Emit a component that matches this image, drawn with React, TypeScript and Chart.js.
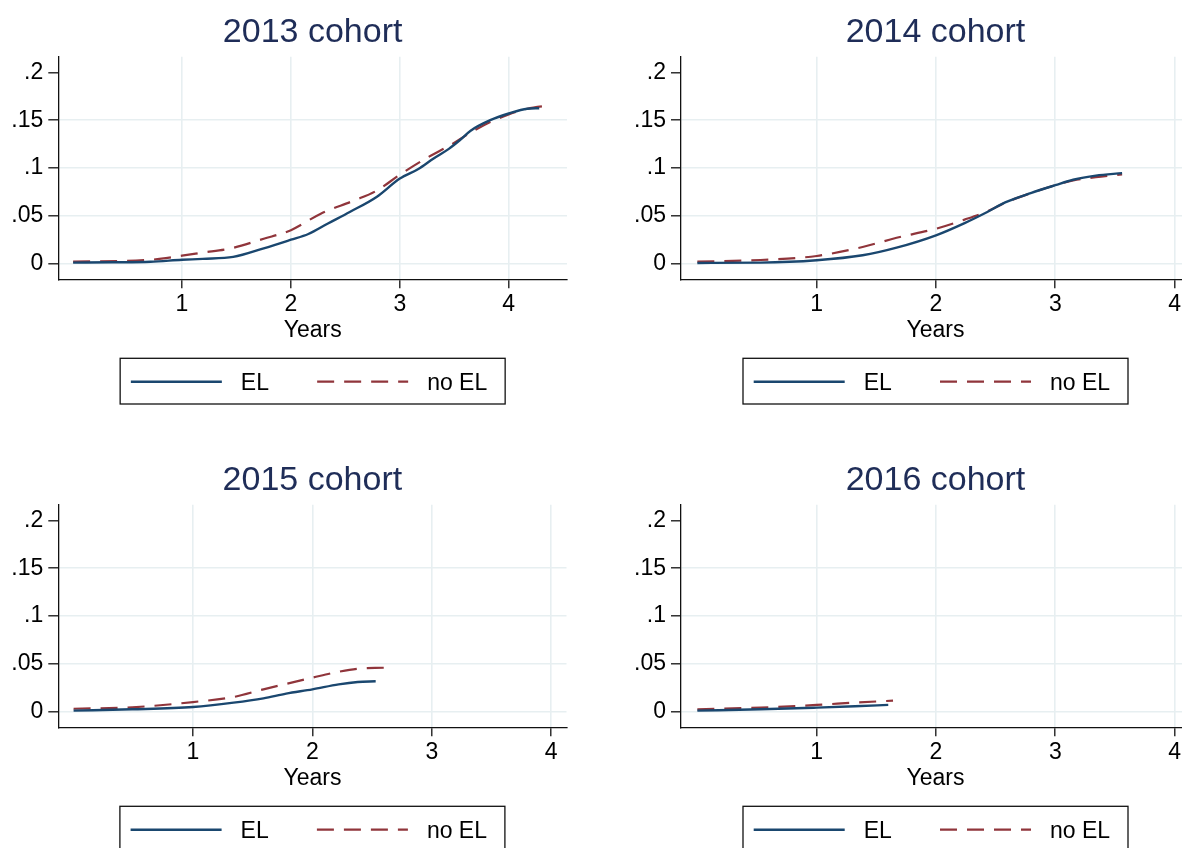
import React, { useEffect, useRef } from "react";
import { Chart, registerables } from "chart.js";

Chart.register(...registerables);

// ---- data ----------------------------------------------------------------
const cohortTitles = ["2013 cohort", "2014 cohort", "2015 cohort", "2016 cohort"];
const seriesNames = ["EL", "no EL"];
const xAxisTitle = "Years";

const yTickValues = [0, 0.05, 0.1, 0.15, 0.2];
const yTickLabels = ["0", ".05", ".1", ".15", ".2"];
const xTickValues = [1, 2, 3, 4];

// 2013 cohort
const years2013EL = [0, 0.36, 0.71, 1.0, 1.19, 1.47, 1.75, 2.0, 2.16, 2.34, 2.54, 2.79, 3.0, 3.17, 3.31, 3.45, 3.55, 3.65, 3.83, 4.0, 4.17, 4.28];
const share2013EL = [0.001, 0.0014, 0.002, 0.004, 0.005, 0.007, 0.016, 0.025, 0.031, 0.042, 0.054, 0.07, 0.089, 0.099, 0.11, 0.12, 0.129, 0.139, 0.15, 0.157, 0.162, 0.1625];
const years2013NoEL = [0, 0.71, 1.0, 1.19, 1.44, 1.75, 2.0, 2.27, 2.58, 2.79, 3.0, 3.24, 3.48, 3.65, 3.83, 4.0, 4.17, 4.38];
const share2013NoEL = [0.002, 0.004, 0.0083, 0.0115, 0.0157, 0.026, 0.035, 0.052, 0.066, 0.0765, 0.093, 0.11, 0.125, 0.137, 0.148, 0.156, 0.162, 0.1656];

// 2014 cohort
const years2014EL = [0, 0.53, 1.0, 1.385, 1.67, 2.0, 2.24, 2.43, 2.58, 2.8, 3.0, 3.15, 3.34, 3.56];
const share2014EL = [0.0007, 0.001, 0.0035, 0.0087, 0.0167, 0.0296, 0.0424, 0.054, 0.064, 0.074, 0.082, 0.0877, 0.092, 0.0946];
const years2014NoEL = [0, 0.53, 1.0, 1.385, 1.67, 2.0, 2.24, 2.43, 2.58, 2.8, 3.0, 3.15, 3.34, 3.56];
const share2014NoEL = [0.002, 0.0038, 0.008, 0.0174, 0.027, 0.0365, 0.046, 0.0546, 0.0637, 0.074, 0.082, 0.087, 0.0904, 0.0932];

// 2015 cohort
const years2015EL = [0, 0.49, 1.0, 1.34, 1.59, 1.78, 2.0, 2.22, 2.38, 2.53];
const share2015EL = [0.001, 0.0024, 0.0049, 0.0094, 0.0139, 0.0188, 0.0233, 0.0285, 0.031, 0.0317];
const years2015NoEL = [0, 0.49, 1.0, 1.34, 1.59, 1.78, 2.0, 2.22, 2.38, 2.6];
const share2015NoEL = [0.003, 0.0045, 0.01, 0.0153, 0.0233, 0.029, 0.0355, 0.0417, 0.0449, 0.0459];

// 2016 cohort
const years2016EL = [0, 0.53, 1.0, 1.32, 1.6];
const share2016EL = [0.001, 0.0024, 0.0042, 0.0056, 0.007];
const years2016NoEL = [0, 0.53, 1.0, 1.32, 1.64];
const share2016NoEL = [0.0024, 0.0042, 0.007, 0.0094, 0.0115];

// ---- styling -------------------------------------------------------------
const FONT = "'Liberation Sans', Arial, Helvetica, sans-serif";
const LABEL_SIZE = 23;
const NAVY = "#1a476f";
const MAROON = "#90353b";
const TITLE_COLOR = "#1f2d58";
const GRID_COLOR = "#e7eff1";
const AXIS_COLOR = "#111111";

const toPoints = (xs: number[], ys: number[]) => xs.map((x, i) => ({ x, y: ys[i] }));

type PanelSpec = {
  title: string;
  el: { x: number; y: number }[];
  noEl: { x: number; y: number }[];
  left: number;
  top: number;
  width: number;
  yAxisWidth: number;
  rightPad: number;
  xMin: number;
  xMax: number;
};

const panels: PanelSpec[] = [
  {
    title: cohortTitles[0],
    el: toPoints(years2013EL, share2013EL),
    noEl: toPoints(years2013NoEL, share2013NoEL),
    left: 0, top: 0, width: 591, yAxisWidth: 58.3, rightPad: 24, xMin: -0.136, xMax: 4.535,
  },
  {
    title: cohortTitles[1],
    el: toPoints(years2014EL, share2014EL),
    noEl: toPoints(years2014NoEL, share2014NoEL),
    left: 591, top: 0, width: 649, yAxisWidth: 90, rightPad: 50, xMin: -0.137, xMax: 4.129,
  },
  {
    title: cohortTitles[2],
    el: toPoints(years2015EL, share2015EL),
    noEl: toPoints(years2015NoEL, share2015NoEL),
    left: 0, top: 447.5, width: 591, yAxisWidth: 58.3, rightPad: 24.5, xMin: -0.128, xMax: 4.128,
  },
  {
    title: cohortTitles[3],
    el: toPoints(years2016EL, share2016EL),
    noEl: toPoints(years2016NoEL, share2016NoEL),
    left: 591, top: 447.5, width: 649, yAxisWidth: 90, rightPad: 50, xMin: -0.137, xMax: 4.129,
  },
];

const PANEL_HEIGHT = 424;
const X_SCALE_HEIGHT = 65.5;
const BOTTOM_PAD = PANEL_HEIGHT - 279.3 - X_SCALE_HEIGHT;

// Boxed legend under the x-axis title, built from the chart's datasets
const boxLegend = {
  id: "boxLegend",
  afterDraw(chart: any) {
    const { ctx, chartArea } = chart;
    const cx = (chartArea.left + chartArea.right) / 2;
    const w = 385;
    const h = 45.7;
    const left = cx - w / 2;
    const top = chartArea.bottom + 79;
    ctx.save();
    ctx.fillStyle = "#ffffff";
    ctx.fillRect(left, top, w, h);
    ctx.strokeStyle = AXIS_COLOR;
    ctx.lineWidth = 1.3;
    ctx.setLineDash([]);
    ctx.strokeRect(left, top, w, h);
    const midY = top + 23.4;
    const offsets = [10.7, 197];
    chart.data.datasets.forEach((ds: any, i: number) => {
      const x0 = left + offsets[i];
      ctx.beginPath();
      ctx.setLineDash(ds.borderDash || []);
      ctx.strokeStyle = ds.borderColor;
      ctx.lineWidth = ds.borderWidth;
      ctx.moveTo(x0, midY);
      ctx.lineTo(x0 + 91, midY);
      ctx.stroke();
      ctx.setLineDash([]);
      ctx.fillStyle = "#000000";
      ctx.font = `${LABEL_SIZE}px ${FONT}`;
      ctx.textAlign = "left";
      ctx.textBaseline = "alphabetic";
      ctx.fillText(ds.label, x0 + 110, top + 31.9);
    });
    ctx.restore();
  },
};

function Panel({ spec }: { spec: PanelSpec }) {
  const ref = useRef<HTMLCanvasElement | null>(null);

  useEffect(() => {
    if (!ref.current) return;
    const chart = new Chart(ref.current, {
      type: "line",
      data: {
        datasets: [
          {
            label: seriesNames[0],
            data: spec.el,
            borderColor: NAVY,
            borderWidth: 2.4,
            pointRadius: 0,
            cubicInterpolationMode: "monotone",
            fill: false,
          },
          {
            label: seriesNames[1],
            data: spec.noEl,
            borderColor: MAROON,
            borderWidth: 2.2,
            borderDash: [17, 10],
            pointRadius: 0,
            cubicInterpolationMode: "monotone",
            fill: false,
          },
        ],
      },
      options: {
        responsive: false,
        animation: false,
        events: [],
        layout: {
          padding: { left: 0, right: spec.rightPad, top: 0, bottom: BOTTOM_PAD },
        },
        plugins: {
          legend: { display: false },
          tooltip: { enabled: false },
          title: {
            display: true,
            text: spec.title,
            color: TITLE_COLOR,
            fullSize: false,
            font: { family: FONT, size: 34, weight: "normal" },
            padding: { top: 12.6, bottom: 3.3 },
          },
        },
        scales: {
          x: {
            type: "linear",
            min: spec.xMin,
            max: spec.xMax,
            afterBuildTicks: (scale: any) => {
              scale.ticks = xTickValues.map((v) => ({ value: v }));
            },
            afterFit: (scale: any) => {
              scale.height = X_SCALE_HEIGHT;
            },
            ticks: {
              color: "#000000",
              font: { family: FONT, size: LABEL_SIZE },
              padding: 3,
              maxRotation: 0,
              autoSkip: false,
              callback: (v: any) => String(v),
            },
            grid: {
              color: GRID_COLOR,
              lineWidth: 1.6,
              tickColor: AXIS_COLOR,
              tickLength: 9,
              tickWidth: 1.3,
            },
            border: { display: true, color: AXIS_COLOR, width: 1.3 },
            title: {
              display: true,
              text: xAxisTitle,
              color: "#000000",
              font: { family: FONT, size: LABEL_SIZE },
              padding: { top: 0, bottom: 0 },
            },
          },
          y: {
            type: "linear",
            min: -0.0164,
            max: 0.2164,
            afterBuildTicks: (scale: any) => {
              scale.ticks = yTickValues.map((v) => ({ value: v }));
            },
            afterFit: (scale: any) => {
              scale.width = spec.yAxisWidth;
            },
            ticks: {
              color: "#000000",
              font: { family: FONT, size: LABEL_SIZE },
              padding: 5,
              autoSkip: false,
              callback: (v: any) => {
                const i = yTickValues.indexOf(v);
                return i >= 0 ? yTickLabels[i] : "";
              },
            },
            grid: {
              color: (ctx: any) =>
                ctx.tick && ctx.tick.value === yTickValues[yTickValues.length - 1]
                  ? "rgba(0,0,0,0)"
                  : GRID_COLOR,
              lineWidth: 1.6,
              tickColor: AXIS_COLOR,
              tickLength: 10,
              tickWidth: 1.3,
            },
            border: { display: true, color: AXIS_COLOR, width: 1.3 },
          },
        },
      } as any,
      plugins: [boxLegend],
    });
    return () => chart.destroy();
  }, [spec]);

  return (
    <canvas
      ref={ref}
      width={spec.width}
      height={PANEL_HEIGHT}
      style={{
        position: "absolute",
        left: spec.left,
        top: spec.top,
        width: spec.width,
        height: PANEL_HEIGHT,
      }}
    />
  );
}

export default function App() {
  return (
    <div
      style={{
        position: "absolute",
        left: 0,
        top: 0,
        width: 1182,
        height: 848,
        overflow: "hidden",
        background: "#ffffff",
      }}
    >
      {panels.map((p) => (
        <Panel key={p.title} spec={p} />
      ))}
    </div>
  );
}
